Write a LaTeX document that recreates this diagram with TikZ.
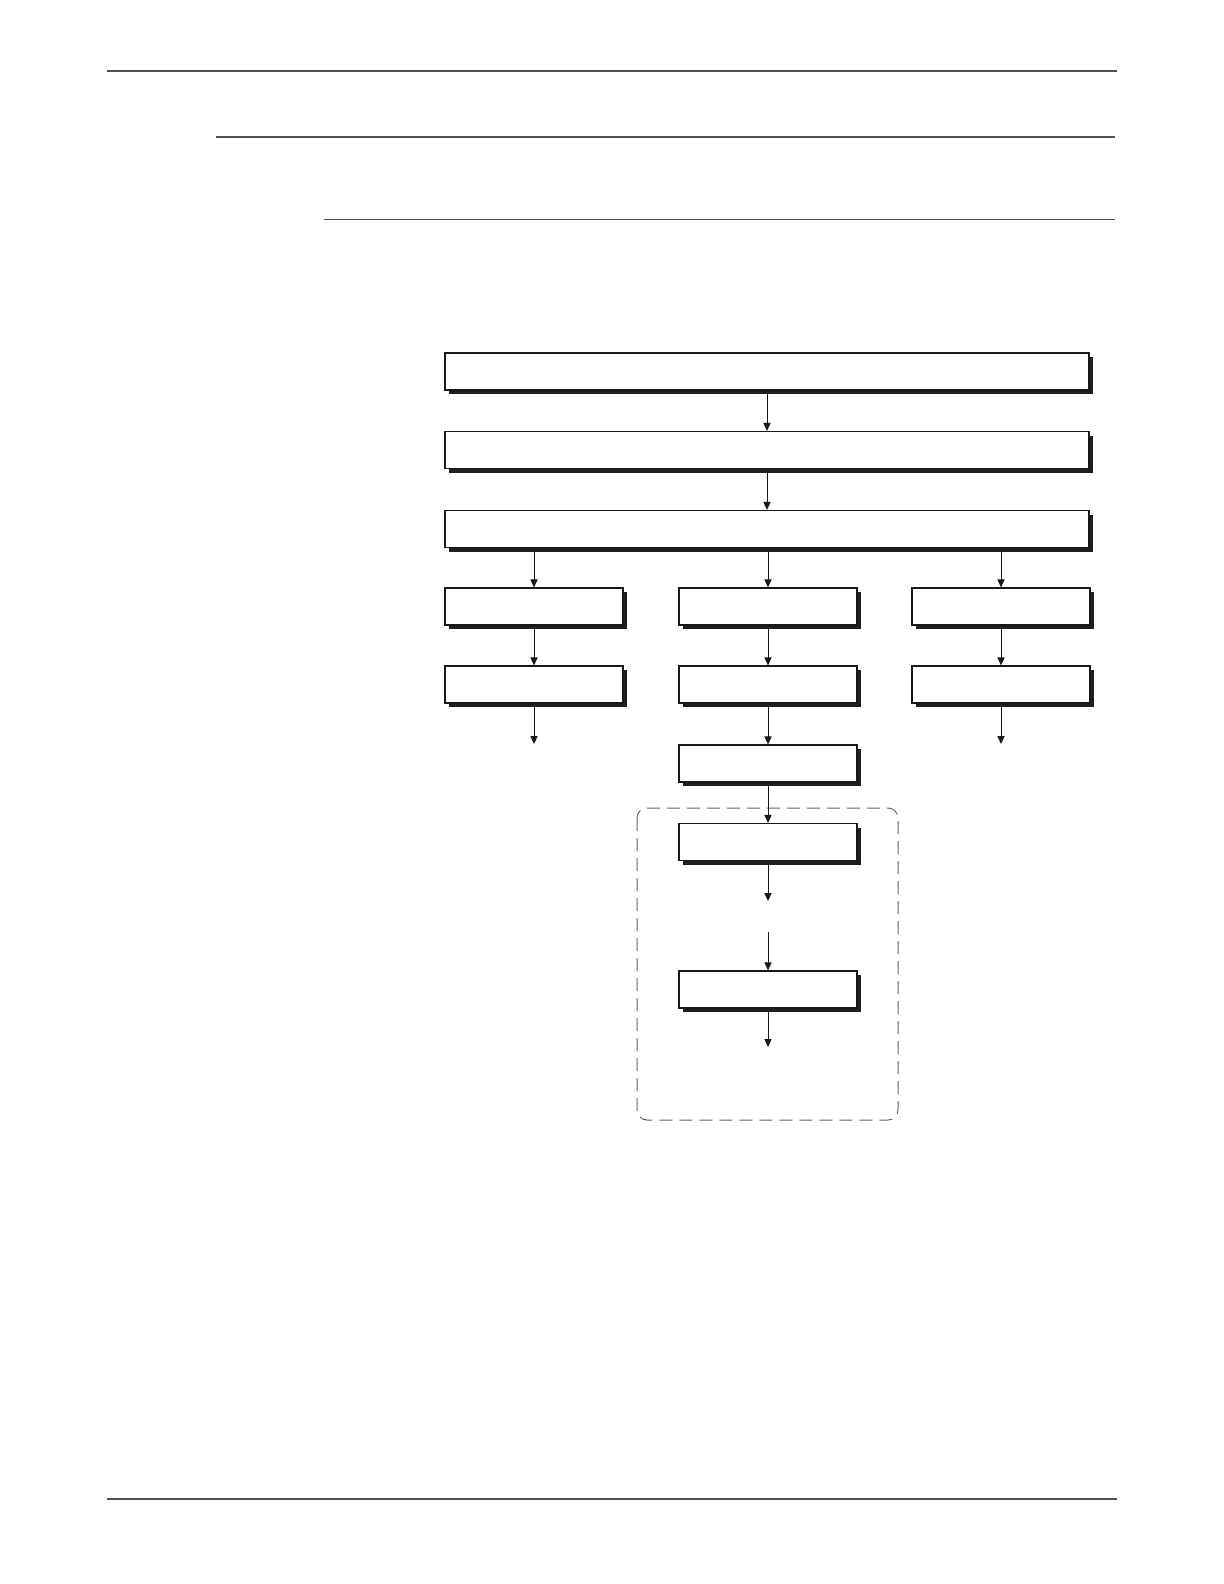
\documentclass[tikz,border=0pt]{standalone}
\usetikzlibrary{arrows.meta,shadows}

\begin{document}
\begin{tikzpicture}[x=0.5pt,y=0.5pt,yscale=-1,xscale=1,
  blockbox/.style={draw=black!90,line width=0.6pt,fill=white,rectangle,inner sep=0pt,
    minimum height=18.5pt,
    general shadow={fill=black!88,shadow xshift=2pt,shadow yshift=-2pt}},
  widebox/.style={blockbox,minimum width=322pt},
  smallbox/.style={blockbox,minimum width=89pt},
  flowarrow/.style={draw=black!90,line width=0.5pt,-{Triangle[length=4pt,width=3.6pt]}},
  pagerule/.style={draw=black!68}]
			\useasboundingbox (0,0) rectangle (1224,1584);
			
			%Rules of the page
			\draw[pagerule,line width=1pt] (107,71.5) -- (1117,71.5) ;
			\draw[pagerule,line width=1pt] (216,137.5) -- (1115,137.5) ;
			\draw[pagerule,line width=0.5pt] (324,219) -- (1115,219) ;
			\draw[pagerule,line width=0.7pt] (107,1499) -- (1117,1499) ;
			
			%Shape: Dashed frame
			\draw[draw=black!60,line width=0.5pt,dash pattern=on 6.5pt off 3.5pt,rounded corners=5pt] (637,808) rectangle (898,1120) ;
			
			%Shape: Wide boxes
			\node[widebox] (top) at (767,371.5) {};
			\node[widebox] (second) at (767,450) {};
			\node[widebox] (third) at (767,529) {};
			
			%Shape: Small boxes, left column
			\node[smallbox] (leftA) at (534,606.5) {};
			\node[smallbox] (leftB) at (534,684.5) {};
			%Shape: Small boxes, middle column
			\node[smallbox] (midA) at (768,606.5) {};
			\node[smallbox] (midB) at (768,684.5) {};
			\node[smallbox] (midC) at (768,763.5) {};
			\node[smallbox] (midD) at (768,842) {};
			\node[smallbox] (midE) at (768,989.5) {};
			%Shape: Small boxes, right column
			\node[smallbox] (rightA) at (1001,606.5) {};
			\node[smallbox] (rightB) at (1001,684.5) {};
			
			%Free ends of arrows
			\coordinate (leftEnd) at (534,744) ;
			\coordinate (rightEnd) at (1001,744) ;
			\coordinate (midDEnd) at (768,901) ;
			\coordinate (midEStart) at (768,932) ;
			\coordinate (midEEnd) at (768,1047) ;
			
			%Arrows
			\draw[flowarrow] (top.south -| second.north) -- (second.north) ;
			\draw[flowarrow] (second.south) -- (third.north) ;
			\draw[flowarrow] (third.south -| leftA.north) -- (leftA.north) ;
			\draw[flowarrow] (third.south -| midA.north) -- (midA.north) ;
			\draw[flowarrow] (third.south -| rightA.north) -- (rightA.north) ;
			\draw[flowarrow] (leftA.south) -- (leftB.north) ;
			\draw[flowarrow] (midA.south) -- (midB.north) ;
			\draw[flowarrow] (rightA.south) -- (rightB.north) ;
			\draw[flowarrow] (leftB.south) -- (leftEnd) ;
			\draw[flowarrow] (rightB.south) -- (rightEnd) ;
			\draw[flowarrow] (midB.south) -- (midC.north) ;
			\draw[flowarrow] (midC.south) -- (midD.north) ;
			\draw[flowarrow] (midD.south) -- (midDEnd) ;
			\draw[flowarrow] (midEStart) -- (midE.north) ;
			\draw[flowarrow] (midE.south) -- (midEEnd) ;
					
		\end{tikzpicture}
\end{document}
